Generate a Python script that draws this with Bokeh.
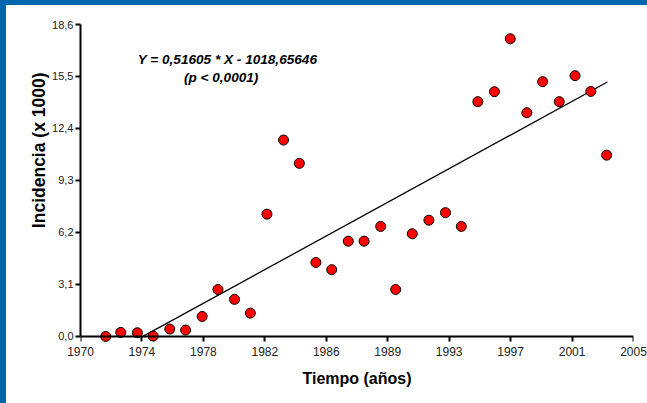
import numpy as np
from bokeh.plotting import figure
from bokeh.models import FixedTicker, Range1d, Label, Div, CustomJSTickFormatter, LinearAxis, Title
from bokeh.layouts import column, row
from bokeh.embed import file_html
from bokeh.resources import INLINE

# ---- data ----
years = [1971.6, 1972.55, 1973.6, 1974.6, 1975.65, 1976.65, 1977.7, 1978.7,
         1979.75, 1980.75, 1981.8, 1982.85, 1983.85, 1984.9, 1985.9, 1986.95,
         1987.95, 1989.0, 1989.95, 1991.0, 1992.05, 1993.1, 1994.1, 1995.15,
         1996.2, 1997.2, 1998.25, 1999.25, 2000.3, 2001.3, 2002.3, 2003.3]
incidence = [0.0, 0.24, 0.22, 0.02, 0.44, 0.38, 1.19, 2.80,
             2.21, 1.39, 7.29, 11.71, 10.32, 4.41, 3.98, 5.68,
             5.68, 6.56, 2.80, 6.12, 6.93, 7.38, 6.56, 14.0,
             14.59, 17.75, 13.34, 15.19, 14.0, 15.55, 14.61, 10.81]

slope = 0.51605
intercept = -1018.65646
fit_x = [1973.95, 2003.35]

x_tick_labels = ["1970", "1974", "1978", "1982", "1986", "1989", "1993", "1997", "2001", "2005"]
y_tick_pos = [0, 3.1, 6.2, 9.3, 12.4, 15.5, 18.6]
y_tick_labels = ["0,0", "3,1", "6,2", "9,3", "12,4", "15,5", "18,6"]

eq_text = "Y = 0,51605 * X - 1018,65646"
p_text = "(p < 0,0001)"
x_title = "Tiempo (años)"
y_title = "Incidencia (x 1000)"

BLUE = "#0066AE"
FONT = "Liberation Sans"

x_tick_pos = [float(v) for v in np.linspace(1970, 2005, len(x_tick_labels))]
fit_y = [slope * v + intercept for v in fit_x]

JS_LOOKUP = """
let b = 0;
for (let i = 0; i < pos.length; i++) { if (Math.abs(pos[i] - tick) < Math.abs(pos[b] - tick)) b = i; }
return lab[b];
"""

p = figure(width=641, height=398, output_backend="svg", toolbar_location=None,
           x_range=Range1d(1970, 2005), y_range=Range1d(-0.6, 18.6),
           x_axis_location=None,
           min_border_left=74, min_border_right=14, min_border_top=19, min_border_bottom=57)
p.background_fill_color = "white"
p.border_fill_color = "white"
p.outline_line_color = None
p.xgrid.visible = False
p.ygrid.visible = False

# regression line
p.line(fit_x, fit_y, line_color="black", line_width=1.3)
# points
p.scatter(years, incidence, size=10, fill_color="#FF0000", line_color="black", line_width=1)

# x axis line + ticks at y = 0
xa = LinearAxis(fixed_location=0, bounds=(1970, 2005), ticker=FixedTicker(ticks=x_tick_pos),
                axis_line_width=2, major_tick_line_width=2, major_tick_out=5, major_tick_in=0,
                minor_tick_line_color=None, major_label_text_alpha=0, major_label_text_font_size="1px")
p.add_layout(xa, "below")

# x tick labels + title in the panel under the frame
xl = LinearAxis(ticker=FixedTicker(ticks=x_tick_pos),
                formatter=CustomJSTickFormatter(args=dict(pos=x_tick_pos, lab=x_tick_labels), code=JS_LOOKUP),
                axis_line_color=None, major_tick_line_color=None, minor_tick_line_color=None,
                major_tick_out=0, major_tick_in=0, major_label_standoff=0,
                major_label_text_font=FONT, major_label_text_font_size="12px",
                major_label_text_color="#222222",
                axis_label=x_title, axis_label_text_font=FONT, axis_label_text_font_style="bold",
                axis_label_text_font_size="16px", axis_label_text_color="black",
                axis_label_standoff=11)
p.add_layout(xl, "below")

# y axis
ya = p.yaxis[0]
ya.bounds = (0, 18.6)
ya.ticker = FixedTicker(ticks=y_tick_pos)
ya.formatter = CustomJSTickFormatter(args=dict(pos=y_tick_pos, lab=y_tick_labels), code=JS_LOOKUP)
ya.axis_line_width = 2
ya.major_tick_line_width = 2
ya.major_tick_out = 5
ya.major_tick_in = 0
ya.minor_tick_line_color = None
ya.major_label_text_font = FONT
ya.major_label_text_font_size = "11px"
ya.major_label_text_color = "#222222"
ya.major_label_standoff = 2

# y title, placed toward the top as in the reference
p.add_layout(Title(text=y_title, align="right", offset=48, vertical_align="bottom", standoff=2,
                   text_font=FONT, text_font_style="bold", text_font_size="17.5px",
                   text_color="black"), "left")

# equation text
p.add_layout(Label(x=1979.3, y=16.5, text=eq_text, text_align="center", text_baseline="middle",
                   text_font=FONT, text_font_style="bold italic",
                   text_font_size="13.6px", text_color="black"))
p.add_layout(Label(x=1978.9, y=15.45, text=p_text, text_align="center", text_baseline="middle",
                   text_font=FONT, text_font_style="bold italic",
                   text_font_size="13.6px", text_color="black"))

top_band = Div(text="", width=647, height=5, margin=0, styles={"background-color": BLUE})
left_band = Div(text="", width=6, height=398, margin=0, styles={"background-color": BLUE})
layout = column(top_band, row(left_band, p, spacing=0), spacing=0)

open("out.html", "w").write(file_html(layout, INLINE))
